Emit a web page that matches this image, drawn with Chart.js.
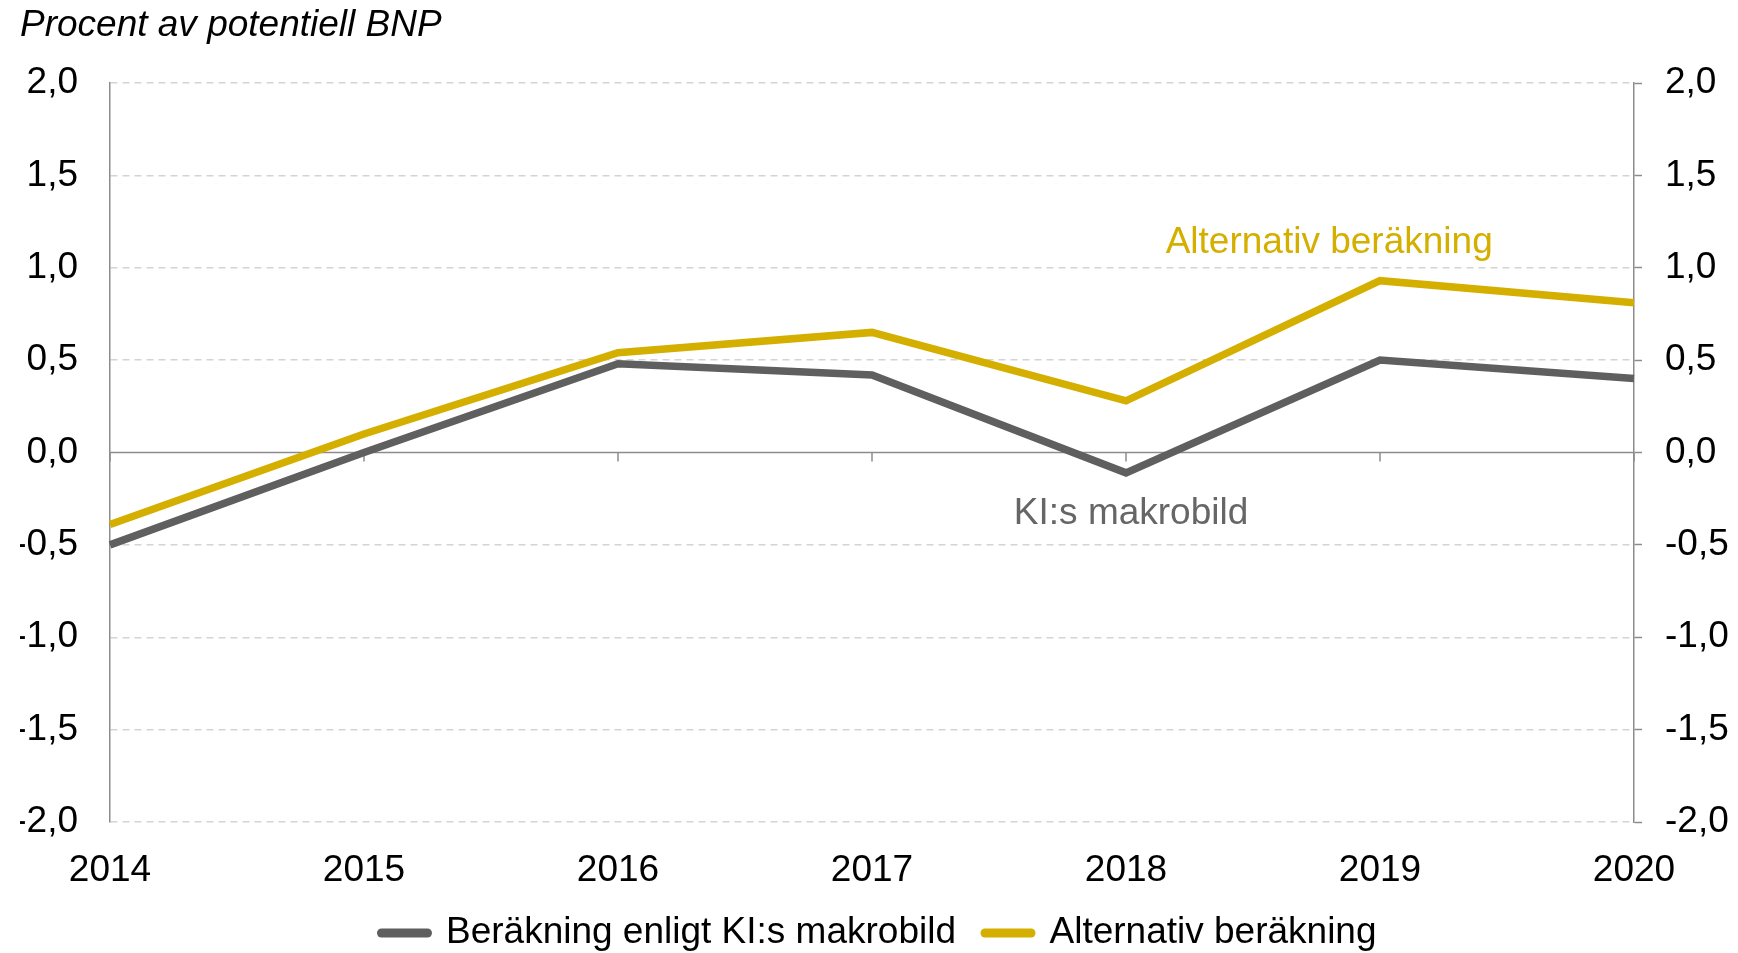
<!DOCTYPE html>
<html><head><meta charset="utf-8">
<script src="https://cdn.jsdelivr.net/npm/chart.js@4/dist/chart.umd.min.js"></script>
<style>html,body{margin:0;padding:0;background:#fff}#wrap{width:1738px;height:953px}</style>
</head><body><div id="wrap"><canvas id="c" width="1738" height="953"></canvas></div>
<script>
const years = ['2014','2015','2016','2017','2018','2019','2020'];
const kiMakro = [-0.50, 0.00, 0.48, 0.42, -0.11, 0.50, 0.40];
const alternativ = [-0.39, 0.10, 0.54, 0.65, 0.28, 0.93, 0.81];
const yTicks = [-2.0, -1.5, -1.0, -0.5, 0.0, 0.5, 1.0, 1.5, 2.0];
const seriesNames = ['Beräkning enligt KI:s makrobild', 'Alternativ beräkning'];
const titleText = 'Procent av potentiell BNP';
const annotations = [
  {text: 'KI:s makrobild', x: 4.02, y: -0.33, color: '#666666'},
  {text: 'Alternativ beräkning', x: 4.8, y: 1.135, color: '#D4AF00'}
];
const GREY = '#5f5f5f', YELLOW = '#D4AF00', AXIS = '#8c8c8c';
const FONT = 'Liberation Sans, Arial, sans-serif';
const fmt = v => v.toFixed(1).replace('.', ',');
const BOTTOM_PAD = -8.5;

const zeroLine = {
  id: 'zeroLine',
  beforeDatasetsDraw(chart) {
    const {ctx, chartArea, scales} = chart;
    const y0 = scales.y.getPixelForValue(0);
    ctx.save();
    ctx.strokeStyle = AXIS; ctx.lineWidth = 1.5;
    ctx.beginPath(); ctx.moveTo(chartArea.left, y0); ctx.lineTo(chartArea.right, y0); ctx.stroke();
    years.forEach((_, i) => {
      const x = scales.x.getPixelForValue(i);
      ctx.beginPath(); ctx.moveTo(x, y0); ctx.lineTo(x, y0 + 9); ctx.stroke();
    });
    ctx.restore();
  },
  afterDatasetsDraw(chart) {
    const {ctx, scales} = chart;
    ctx.save();
    ctx.font = '37px ' + FONT;
    ctx.textAlign = 'center'; ctx.textBaseline = 'middle';
    annotations.forEach(a => {
      ctx.fillStyle = a.color;
      ctx.fillText(a.text, scales.x.getPixelForValue(a.x), scales.y.getPixelForValue(a.y));
    });
    ctx.restore();
  }
};

new Chart(document.getElementById('c'), {
  type: 'line',
  data: {
    labels: years,
    datasets: [
      {label: seriesNames[0], data: kiMakro, borderColor: GREY, backgroundColor: GREY, borderWidth: 7.5, pointRadius: 0, tension: 0, yAxisID: 'y'},
      {label: seriesNames[1], data: alternativ, borderColor: YELLOW, backgroundColor: YELLOW, borderWidth: 7.5, pointRadius: 0, tension: 0, yAxisID: 'y'}
    ]
  },
  options: {
    responsive: false, animation: false,
    layout: {padding: {left: 20, right: 0, top: 0, bottom: BOTTOM_PAD}},
    scales: {
      x: {
        type: 'category', offset: false,
        grid: {display: false, drawTicks: false}, border: {display: false},
        ticks: {color: '#000', font: {family: FONT, size: 37}, padding: 27, maxRotation: 0, autoSkip: false},
        afterFit: s => { s.height = s.chart.height - BOTTOM_PAD - 822 - s.chart.legend.height; }
      },
      y: {
        position: 'left', min: -2, max: 2,
        afterBuildTicks: s => { s.ticks = yTicks.map(v => ({value: v})); },
        grid: {color: c => (c.tick && c.tick.value === 0) ? 'rgba(0,0,0,0)' : '#d4d4d4', lineWidth: 1.5, drawTicks: false},
        border: {display: true, color: AXIS, width: 1.5, dash: [7, 5]},
        ticks: {color: '#000', font: {family: FONT, size: 37}, padding: 32, callback: v => fmt(v)},
        afterFit: s => { s.width = 90; }
      },
      y2: {
        position: 'right', min: -2, max: 2,
        afterBuildTicks: s => { s.ticks = yTicks.map(v => ({value: v})); },
        grid: {drawOnChartArea: false, drawTicks: true, tickLength: 8, tickColor: AXIS, tickWidth: 1.5},
        border: {display: true, color: AXIS, width: 1.5},
        ticks: {color: '#000', font: {family: FONT, size: 37}, padding: 23, callback: v => fmt(v)},
        afterFit: s => { s.width = 104; }
      }
    },
    plugins: {
      title: {display: true, text: titleText, align: 'start', color: '#000',
        font: {family: FONT, size: 37, style: 'italic', weight: 'normal'}, padding: {top: 4, bottom: 34.6}},
      legend: {
        position: 'bottom',
        labels: {
          color: '#000', font: {family: FONT, size: 37}, padding: 29,
          usePointStyle: true, pointStyle: 'line', pointStyleWidth: 46,
          generateLabels: chart => Chart.defaults.plugins.legend.labels.generateLabels(chart).map(l => Object.assign(l, {lineWidth: 9, lineCap: 'round', pointStyle: 'line'}))
        }
      },
      tooltip: {enabled: false}
    }
  },
  plugins: [zeroLine]
});
</script></body></html>
